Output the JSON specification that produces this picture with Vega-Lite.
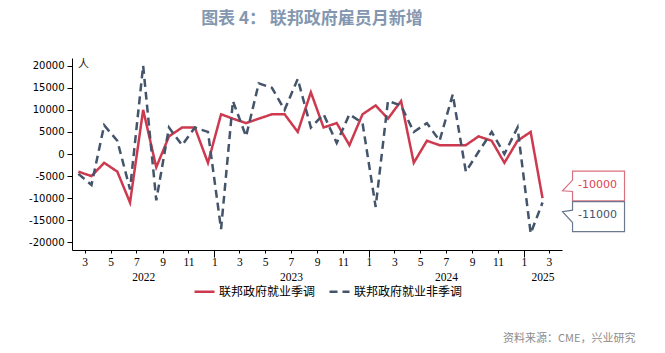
{
  "$schema": "https://vega.github.io/schema/vega-lite/v6.json",
  "width": 490,
  "height": 192,
  "autosize": {"type": "none"},
  "padding": {"left": 72, "top": 58, "right": 103, "bottom": 103},
  "background": "white",
  "config": {"view": {"stroke": null}, "font": "Liberation Sans"},
  "title": {
    "text": "图表 4： 联邦政府雇员月新增",
    "font": "Noto Sans CJK SC",
    "fontSize": 17,
    "fontWeight": "bold",
    "color": "#8497b0",
    "anchor": "middle",
    "frame": "group",
    "dx": -5,
    "offset": 30
  },
  "data": {
    "values": [
      {"month": "2022-03-01", "联邦政府就业季调": -4000, "联邦政府就业非季调": -4500},
      {"month": "2022-04-01", "联邦政府就业季调": -5000, "联邦政府就业非季调": -7000},
      {"month": "2022-05-01", "联邦政府就业季调": -2000, "联邦政府就业非季调": 6500},
      {"month": "2022-06-01", "联邦政府就业季调": -4000, "联邦政府就业非季调": 3000},
      {"month": "2022-07-01", "联邦政府就业季调": -11000, "联邦政府就业非季调": -8000},
      {"month": "2022-08-01", "联邦政府就业季调": 10000, "联邦政府就业非季调": 20000},
      {"month": "2022-09-01", "联邦政府就业季调": -3000, "联邦政府就业非季调": -10500},
      {"month": "2022-10-01", "联邦政府就业季调": 4000, "联邦政府就业非季调": 6000},
      {"month": "2022-11-01", "联邦政府就业季调": 6000, "联邦政府就业非季调": 2000},
      {"month": "2022-12-01", "联邦政府就业季调": 6000, "联邦政府就业非季调": 6000},
      {"month": "2023-01-01", "联邦政府就业季调": -2000, "联邦政府就业非季调": 5000},
      {"month": "2023-02-01", "联邦政府就业季调": 9000, "联邦政府就业非季调": -17000},
      {"month": "2023-03-01", "联邦政府就业季调": 8000, "联邦政府就业非季调": 12000},
      {"month": "2023-04-01", "联邦政府就业季调": 7000, "联邦政府就业非季调": 4000},
      {"month": "2023-05-01", "联邦政府就业季调": 8000, "联邦政府就业非季调": 16000},
      {"month": "2023-06-01", "联邦政府就业季调": 9000, "联邦政府就业非季调": 15000},
      {"month": "2023-07-01", "联邦政府就业季调": 9000, "联邦政府就业非季调": 10000},
      {"month": "2023-08-01", "联邦政府就业季调": 5000, "联邦政府就业非季调": 17000},
      {"month": "2023-09-01", "联邦政府就业季调": 14000, "联邦政府就业非季调": 6000},
      {"month": "2023-10-01", "联邦政府就业季调": 6000, "联邦政府就业非季调": 9000},
      {"month": "2023-11-01", "联邦政府就业季调": 7000, "联邦政府就业非季调": 2500},
      {"month": "2023-12-01", "联邦政府就业季调": 2000, "联邦政府就业非季调": 9000},
      {"month": "2024-01-01", "联邦政府就业季调": 9000, "联邦政府就业非季调": 7000},
      {"month": "2024-02-01", "联邦政府就业季调": 11000, "联邦政府就业非季调": -12000},
      {"month": "2024-03-01", "联邦政府就业季调": 8000, "联邦政府就业非季调": 12000},
      {"month": "2024-04-01", "联邦政府就业季调": 12000, "联邦政府就业非季调": 11000},
      {"month": "2024-05-01", "联邦政府就业季调": -2000, "联邦政府就业非季调": 5000},
      {"month": "2024-06-01", "联邦政府就业季调": 3000, "联邦政府就业非季调": 7000},
      {"month": "2024-07-01", "联邦政府就业季调": 2000, "联邦政府就业非季调": 3000},
      {"month": "2024-08-01", "联邦政府就业季调": 2000, "联邦政府就业非季调": 13500},
      {"month": "2024-09-01", "联邦政府就业季调": 2000, "联邦政府就业非季调": -4000},
      {"month": "2024-10-01", "联邦政府就业季调": 4000, "联邦政府就业非季调": 500},
      {"month": "2024-11-01", "联邦政府就业季调": 3000, "联邦政府就业非季调": 5000},
      {"month": "2024-12-01", "联邦政府就业季调": -2000, "联邦政府就业非季调": 0},
      {"month": "2025-01-01", "联邦政府就业季调": 3000, "联邦政府就业非季调": 6000},
      {"month": "2025-02-01", "联邦政府就业季调": 5000, "联邦政府就业非季调": -18000},
      {"month": "2025-03-01", "联邦政府就业季调": -10000, "联邦政府就业非季调": -11000}
    ]
  },
  "transform": [
    {"fold": ["联邦政府就业季调", "联邦政府就业非季调"], "as": ["series", "value"]}
  ],
  "layer": [
    {
      "mark": {"type": "line", "strokeWidth": 2.5},
      "encoding": {
        "x": {
          "field": "month",
          "type": "temporal",
          "scale": {
            "type": "utc",
            "domain": [
              {"year": 2022, "month": 2, "date": 14, "utc": true},
              {"year": 2025, "month": 4, "date": 16, "utc": true}
            ]
          },
          "axis": {
            "orient": "bottom",
            "title": null,
            "grid": false,
            "values": [
              {"year": 2022, "month": 3, "date": 16, "utc": true},
              {"year": 2022, "month": 5, "date": 16, "utc": true},
              {"year": 2022, "month": 7, "date": 16, "utc": true},
              {"year": 2022, "month": 9, "date": 16, "utc": true},
              {"year": 2022, "month": 11, "date": 16, "utc": true},
              {"year": 2023, "month": 1, "date": 16, "utc": true},
              {"year": 2023, "month": 3, "date": 16, "utc": true},
              {"year": 2023, "month": 5, "date": 16, "utc": true},
              {"year": 2023, "month": 7, "date": 16, "utc": true},
              {"year": 2023, "month": 9, "date": 16, "utc": true},
              {"year": 2023, "month": 11, "date": 16, "utc": true},
              {"year": 2024, "month": 1, "date": 16, "utc": true},
              {"year": 2024, "month": 3, "date": 16, "utc": true},
              {"year": 2024, "month": 5, "date": 16, "utc": true},
              {"year": 2024, "month": 7, "date": 16, "utc": true},
              {"year": 2024, "month": 9, "date": 16, "utc": true},
              {"year": 2024, "month": 11, "date": 16, "utc": true},
              {"year": 2025, "month": 1, "date": 16, "utc": true},
              {"year": 2025, "month": 3, "date": 16, "utc": true}
            ],
            "labelExpr": "utcFormat(datum.value, '%-m')",
            "domainColor": "#000000",
            "tickColor": "#000000",
            "tickSize": 3,
            "labelPadding": 3,
            "labelFont": "Liberation Serif",
            "labelFontSize": 11.5,
            "labelColor": "#000000",
            "labelAngle": 0,
            "labelOverlap": false,
            "labelFlush": false
          }
        },
        "y": {
          "field": "value",
          "type": "quantitative",
          "scale": {"domain": [-21750, 21750], "nice": false, "zero": false},
          "axis": {
            "orient": "left",
            "title": "人",
            "titleAngle": 0,
            "titleX": 11,
            "titleY": 6,
            "titleAlign": "center",
            "titleBaseline": "middle",
            "titleFont": "Noto Sans CJK SC",
            "titleFontSize": 11,
            "titleFontWeight": "normal",
            "titleColor": "#222222",
            "values": [-20000, -15000, -10000, -5000, 0, 5000, 10000, 15000, 20000],
            "labelExpr": "'' + datum.value",
            "grid": false,
            "domainColor": "#000000",
            "tickColor": "#000000",
            "tickSize": 5,
            "labelPadding": 3,
            "labelFont": "DejaVu Sans",
            "labelFontSize": 10,
            "labelColor": "#000000"
          }
        },
        "color": {
          "field": "series",
          "type": "nominal",
          "scale": {
            "domain": ["联邦政府就业季调", "联邦政府就业非季调"],
            "range": ["#cd3a4f", "#44546a"]
          },
          "legend": {
            "orient": "none",
            "legendX": 121,
            "legendY": 222,
            "direction": "horizontal",
            "title": null,
            "symbolType": "stroke",
            "symbolSize": 400,
            "symbolStrokeWidth": 2.5,
            "labelFont": "Noto Sans CJK SC",
            "labelFontSize": 12,
            "labelColor": "#000000",
            "labelOffset": 3,
            "columnPadding": 8,
            "padding": 0
          }
        },
        "strokeDash": {
          "field": "series",
          "type": "nominal",
          "scale": {
            "domain": ["联邦政府就业季调", "联邦政府就业非季调"],
            "range": [[1, 0], [8, 5]]
          },
          "legend": {
            "orient": "none",
            "legendX": 121,
            "legendY": 222,
            "direction": "horizontal",
            "title": null,
            "symbolType": "stroke",
            "symbolSize": 400,
            "symbolStrokeWidth": 2.5,
            "labelFont": "Noto Sans CJK SC",
            "labelFontSize": 12,
            "labelColor": "#000000",
            "labelOffset": 3,
            "columnPadding": 8,
            "padding": 0
          }
        }
      }
    },
    {
      "mark": {"type": "rule", "opacity": 0},
      "encoding": {
        "x": {
          "field": "month",
          "type": "temporal",
          "axis": {
            "orient": "bottom",
            "values": [
              {"year": 2022, "month": 8, "date": 1, "utc": true},
              {"year": 2023, "month": 7, "date": 16, "utc": true},
              {"year": 2024, "month": 7, "date": 16, "utc": true},
              {"year": 2025, "month": 3, "date": 1, "utc": true}
            ],
            "labelExpr": "utcFormat(datum.value, '%Y')",
            "domain": false,
            "ticks": false,
            "grid": false,
            "labelPadding": 21,
            "labelFont": "Liberation Serif",
            "labelFontSize": 11.5,
            "labelColor": "#000000",
            "labelAngle": 0,
            "labelOverlap": false,
            "labelFlush": false,
            "title": "资料来源：CME，兴业研究",
            "titleX": 563,
            "titleY": 88,
            "titleAlign": "right",
            "titleBaseline": "middle",
            "titleFont": "Noto Sans CJK SC",
            "titleFontSize": 11,
            "titleFontWeight": "normal",
            "titleColor": "#8c8c8c"
          }
        }
      }
    },
    {
      "mark": {"type": "rule", "opacity": 0},
      "encoding": {
        "x": {
          "field": "month",
          "type": "temporal",
          "axis": {
            "orient": "bottom",
            "values": [
              {"year": 2023, "month": 1, "date": 16, "utc": true},
              {"year": 2024, "month": 1, "date": 16, "utc": true},
              {"year": 2025, "month": 1, "date": 16, "utc": true}
            ],
            "labels": false,
            "domain": false,
            "grid": false,
            "tickSize": 7,
            "tickColor": "#000000",
            "title": null
          }
        }
      }
    },
    {
      "transform": [{"filter": "datum.series === '联邦政府就业季调' && toDate(datum.month) > utc(2025, 1, 15)"}],
      "mark": {
        "type": "point",
        "shape": "M-0.677,-0.484L1,-0.484L1,0.474L-0.677,0.474L-0.677,0.171L-1,0.15L-0.677,-0.194Z",
        "size": 3844,
        "filled": true,
        "fill": "#ffffff",
        "stroke": "#d9707f",
        "strokeWidth": 1.2,
        "opacity": 1,
        "xOffset": 51,
        "yOffset": -12
      },
      "encoding": {
        "x": {"field": "month", "type": "temporal", "axis": null},
        "y": {"field": "value", "type": "quantitative", "axis": null}
      }
    },
    {
      "transform": [{"filter": "datum.series === '联邦政府就业非季调' && toDate(datum.month) > utc(2025, 1, 15)"}],
      "mark": {
        "type": "point",
        "shape": "M-0.677,-0.484L1,-0.484L1,0.484L-0.677,0.484L-0.677,0.194L-1,-0.16L-0.677,-0.206Z",
        "size": 3844,
        "filled": true,
        "fill": "#ffffff",
        "stroke": "#6a7890",
        "strokeWidth": 1.2,
        "opacity": 1,
        "xOffset": 51,
        "yOffset": 14
      },
      "encoding": {
        "x": {"field": "month", "type": "temporal", "axis": null},
        "y": {"field": "value", "type": "quantitative", "axis": null}
      }
    },
    {
      "transform": [{"filter": "datum.series === '联邦政府就业季调' && toDate(datum.month) > utc(2025, 1, 15)"}],
      "mark": {
        "type": "text",
        "dx": 55,
        "dy": -13,
        "align": "center",
        "baseline": "middle",
        "font": "DejaVu Sans",
        "fontSize": 11,
        "color": "#e0424f"
      },
      "encoding": {
        "x": {"field": "month", "type": "temporal", "axis": null},
        "y": {"field": "value", "type": "quantitative", "axis": null},
        "text": {"field": "value", "type": "nominal"}
      }
    },
    {
      "transform": [{"filter": "datum.series === '联邦政府就业非季调' && toDate(datum.month) > utc(2025, 1, 15)"}],
      "mark": {
        "type": "text",
        "dx": 55,
        "dy": 12,
        "align": "center",
        "baseline": "middle",
        "font": "DejaVu Sans",
        "fontSize": 11,
        "color": "#44546a"
      },
      "encoding": {
        "x": {"field": "month", "type": "temporal", "axis": null},
        "y": {"field": "value", "type": "quantitative", "axis": null},
        "text": {"field": "value", "type": "nominal"}
      }
    }
  ],
  "resolve": {"axis": {"x": "independent", "y": "independent"}}
}
